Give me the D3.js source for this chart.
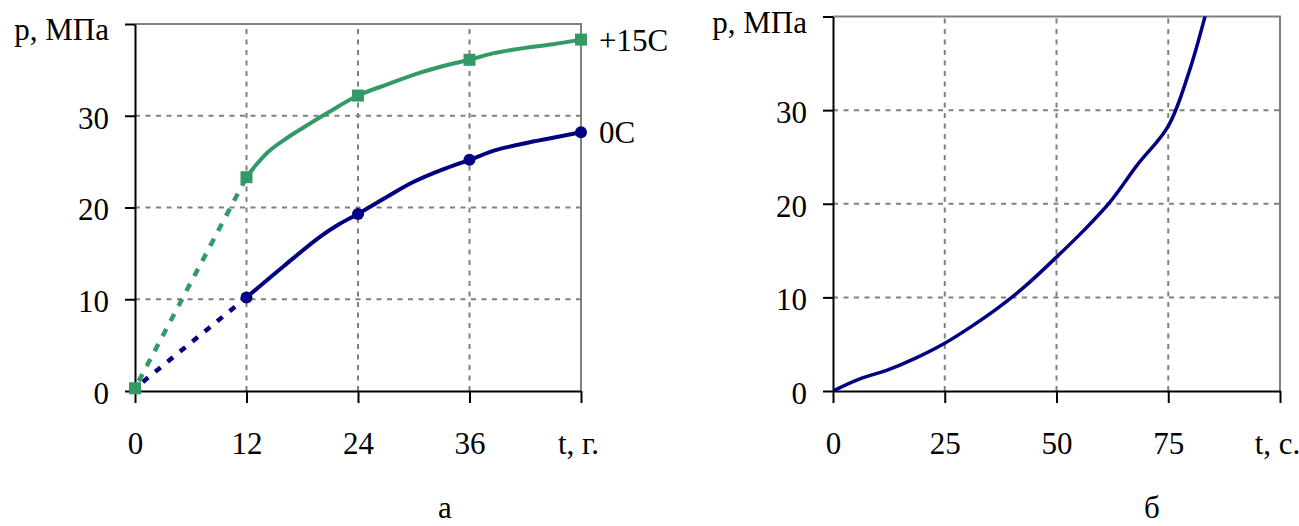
<!DOCTYPE html>
<html>
<head>
<meta charset="utf-8">
<script src="https://cdn.jsdelivr.net/npm/d3@7"></script>
<style>
  body { margin: 0; background: #fff; }
  svg text { font-family: "Liberation Serif", "Times New Roman", serif; font-size: 31px; fill: #000; }
</style>
</head>
<body>
<div id="chart"></div>
<script>
// chart a: pressure vs age (years)
var ageTicks = [0, 12, 24, 36, 48];
var pTicks = [0, 10, 20, 30, 40];
var warmMarkT = [0, 12, 24, 36, 48];
var warmMarkP = [0.3, 23.3, 32.2, 36.1, 38.3];
var warmCurveT = [12, 13, 14.5, 16.4, 18.1, 20.7, 24, 27.1, 30.7, 33.5, 36, 38.5, 42, 45, 48];
var warmCurveP = [23.3, 24.6, 26.2, 27.6, 28.7, 30.3, 32.2, 33.4, 34.7, 35.5, 36.1, 36.8, 37.4, 37.8, 38.3];
var coldMarkT = [12, 24, 36, 48];
var coldMarkP = [10.2, 19.3, 25.2, 28.2];
var coldCurveT = [12, 16, 19.9, 22, 24, 27, 30, 33, 36, 39, 42, 45, 48];
var coldCurveP = [10.2, 13.6, 16.8, 18.2, 19.3, 21.1, 22.8, 24.1, 25.2, 26.3, 27.0, 27.6, 28.2];
var coldStart = [0, 0.3];
var warmLabel = "+15C", coldLabel = "0C";

// chart б: pressure vs time (seconds)
var secTicks = [0, 25, 50, 75, 100];
var secT = [0, 6, 12, 18, 25, 31, 37, 43, 50, 56, 62, 68, 75, 79.6, 83.5];
var secP = [0, 1.3, 2.2, 3.4, 5.1, 6.9, 8.9, 11.2, 14.3, 17.1, 20.2, 24.1, 28.3, 34, 40.5];

var green = "#339966", navy = "#000080", grey = "#808080";

var svg = d3.select("#chart").append("svg")
  .attr("width", 1299).attr("height", 526);

function pairs(ts, ps) { return ts.map(function(t, i) { return [t, ps[i]]; }); }

function drawFrame(x, y, xt, xLast, yLabel) {
  var x0 = x.range()[0], x1 = x.range()[1];
  var y0 = y.range()[0], y1 = y.range()[1];
  var g = svg.append("g");
  // dashed grid
  g.selectAll(".gx").data(xt.slice(1, -1)).enter().append("line")
    .attr("x1", function(d) { return x(d); }).attr("x2", function(d) { return x(d); })
    .attr("y1", y0).attr("y2", y1)
    .attr("stroke", grey).attr("stroke-width", 2).attr("stroke-dasharray", "5,5.5");
  g.selectAll(".gy").data(pTicks.slice(1, -1)).enter().append("line")
    .attr("x1", x0).attr("x2", x1)
    .attr("y1", function(d) { return y(d); }).attr("y2", function(d) { return y(d); })
    .attr("stroke", grey).attr("stroke-width", 2).attr("stroke-dasharray", "5,5.5");
  // top + right border
  g.append("path")
    .attr("d", "M" + x0 + "," + y1 + "H" + x1 + "V" + y0)
    .attr("fill", "none").attr("stroke", grey).attr("stroke-width", 2);

  var ax = g.append("g").attr("transform", "translate(0," + y0 + ")")
    .call(d3.axisBottom(x).tickValues(xt).tickSize(12).tickSizeOuter(0)
      .tickFormat(function(d) { return d === xt[xt.length - 1] ? xLast : d; }));
  ax.selectAll("text").attr("y", 41).attr("dy", "0.71em").style("font-size", "31px")
    .attr("dx", function(d) { return d === xt[xt.length - 1] ? -3 : 0; });
  var ay = g.append("g").attr("transform", "translate(" + x0 + ",0)")
    .call(d3.axisLeft(y).tickValues(pTicks).tickSize(10).tickPadding(16).tickSizeOuter(0)
      .tickFormat(function(d) { return d === 40 ? yLabel : d; }));
  ay.selectAll("text").attr("dy", function(d) { return d === 40 ? "0.5em" : "0.4em"; })
    .style("font-size", "31px");
  g.selectAll(".domain, .tick line").attr("stroke", "#000").attr("stroke-width", 2);
  g.selectAll(".tick text").attr("fill", "#000").style("font-family", "Liberation Serif");
}

// ---- chart a ----
var xa = d3.scaleLinear().domain([0, 48]).range([135, 581]);
var ya = d3.scaleLinear().domain([0, 40]).range([391, 24]);
drawFrame(xa, ya, ageTicks, "t, г.", "p, МПа");

var lineA = d3.line().x(function(d) { return xa(d[0]); }).y(function(d) { return ya(d[1]); });
var smoothA = d3.line().curve(d3.curveCatmullRom.alpha(0.5))
  .x(function(d) { return xa(d[0]); }).y(function(d) { return ya(d[1]); });

// dashed extrapolation to the origin
svg.append("path").attr("d", lineA([coldStart, [coldMarkT[0], coldMarkP[0]]]))
  .attr("fill", "none").attr("stroke", navy).attr("stroke-width", 4.5)
  .attr("stroke-dasharray", "7,9").attr("stroke-dashoffset", -10);
svg.append("path").attr("d", lineA([[warmMarkT[0], warmMarkP[0]], [warmMarkT[1], warmMarkP[1]]]))
  .attr("fill", "none").attr("stroke", green).attr("stroke-width", 4.5)
  .attr("stroke-dasharray", "8,9").attr("stroke-dashoffset", -8);

svg.append("path").attr("d", smoothA(pairs(coldCurveT, coldCurveP)))
  .attr("fill", "none").attr("stroke", navy).attr("stroke-width", 4);
svg.append("path").attr("d", smoothA(pairs(warmCurveT, warmCurveP)))
  .attr("fill", "none").attr("stroke", green).attr("stroke-width", 4);

svg.selectAll(".cold").data(pairs(coldMarkT, coldMarkP)).enter().append("circle")
  .attr("cx", function(d) { return xa(d[0]); }).attr("cy", function(d) { return ya(d[1]); })
  .attr("r", 6).attr("fill", navy);
svg.selectAll(".warm").data(pairs(warmMarkT, warmMarkP)).enter().append("rect")
  .attr("x", function(d) { return xa(d[0]) - 6; }).attr("y", function(d) { return ya(d[1]) - 6; })
  .attr("width", 12).attr("height", 12).attr("fill", green);

svg.append("text").attr("x", xa(48) + 18).attr("y", ya(warmMarkP[4])).attr("dy", "0.36em").text(warmLabel);
svg.append("text").attr("x", xa(48) + 18).attr("y", ya(coldMarkP[3])).attr("dy", "0.36em").text(coldLabel);
svg.append("text").attr("x", 445).attr("y", 518).attr("text-anchor", "middle").text("а");

// ---- chart б ----
var xb = d3.scaleLinear().domain([0, 100]).range([833, 1280]);
var yb = d3.scaleLinear().domain([0, 40]).range([391, 16.5]);
drawFrame(xb, yb, secTicks, "t, с.", "p, МПа");

svg.append("clipPath").attr("id", "clipB").append("rect")
  .attr("x", 833).attr("y", 16.5).attr("width", 447).attr("height", 375);
svg.append("path").attr("clip-path", "url(#clipB)")
  .attr("d", d3.line().curve(d3.curveCatmullRom.alpha(0.5))
    .x(function(d) { return xb(d[0]); }).y(function(d) { return yb(d[1]); })(pairs(secT, secP)))
  .attr("fill", "none").attr("stroke", navy).attr("stroke-width", 3.5);
svg.append("text").attr("x", 1152).attr("y", 518).attr("text-anchor", "middle").text("б");
</script>
</body>
</html>
